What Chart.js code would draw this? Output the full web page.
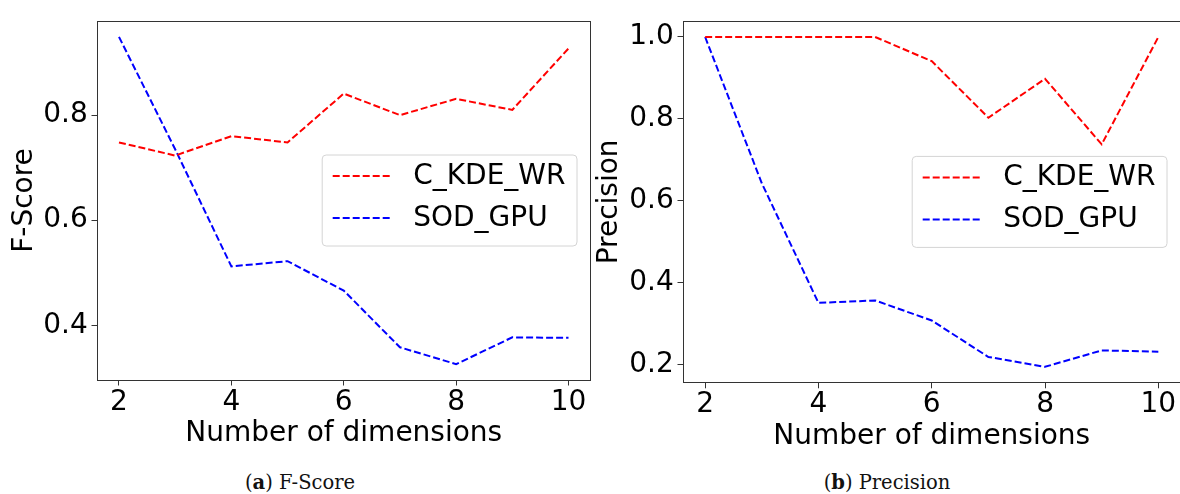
<!DOCTYPE html>
<html>
<head>
<meta charset="utf-8">
<script src="https://cdn.jsdelivr.net/npm/chart.js@4.4.0/dist/chart.umd.min.js"></script>
<style>
  html, body { margin: 0; padding: 0; background: #fff; overflow: hidden; width: 1180px; height: 494px; }
  .panel { position: absolute; top: 0; }
  .cap { position: absolute; top: 472px; line-height: 22px; font-family: 'DejaVu Serif', serif; font-size: 19.5px; color: #111; transform: translateX(-50%); white-space: nowrap; }
</style>
</head>
<body>
<div class="panel" style="left:0;width:600px;height:460px"><canvas id="fscoreChart" width="600" height="460"></canvas></div>
<div class="panel" style="left:590px;width:592px;height:460px"><canvas id="precisionChart" width="592" height="460"></canvas></div>
<div class="cap" style="left:300px">(<b>a</b>) F-Score</div>
<div class="cap" style="left:887px">(<b>b</b>) Precision</div>

<script>
// data
const dims = [2, 3, 4, 5, 6, 7, 8, 9, 10];
const fscoreKde = [0.748, 0.723, 0.760, 0.748, 0.841, 0.800, 0.831, 0.810, 0.927];
const fscoreSod = [0.949, 0.735, 0.512, 0.522, 0.466, 0.358, 0.326, 0.377, 0.376];
const precKde = [1.0, 1.0, 1.0, 1.0, 0.941, 0.803, 0.898, 0.738, 1.0];
const precSod = [1.0, 0.643, 0.351, 0.357, 0.308, 0.219, 0.195, 0.235, 0.232];
const seriesNames = ['C_KDE_WR', 'SOD_GPU'];
const seriesColors = ['#ff0000', '#0000ff'];
const xTicks = [2, 4, 6, 8, 10];
const fscoreTicks = [0.4, 0.6, 0.8];
const precTicks = [0.2, 0.4, 0.6, 0.8, 1.0];
const xTitle = 'Number of dimensions';

const FONT = "'DejaVu Sans', sans-serif";

// matplotlib style 5% margins
function padRange(values) {
  const lo = Math.min(...values), hi = Math.max(...values);
  const m = (hi - lo) * 0.05;
  return [lo - m, hi + m];
}

// full box around the plot + legend at center right
const frameAndLegend = {
  id: 'frameAndLegend',
  afterDraw(chart) {
    const {ctx, chartArea: a} = chart;
    ctx.save();
    ctx.strokeStyle = '#333';
    ctx.lineWidth = 1;
    const l = Math.round(a.left) + 0.5, t = Math.round(a.top) + 0.5;
    const r = Math.round(a.right) - 0.5, b = Math.round(a.bottom) - 0.5;
    ctx.strokeRect(l, t, r - l, b - t);

    ctx.font = '28px ' + FONT;
    const sets = chart.data.datasets;
    const tw = Math.max(...sets.map(d => ctx.measureText(d.label).width));
    const w = 10.5 + 57 + 23.5 + tw + 11.5;
    const h = 91;
    const x = a.right - 14 - w;
    const y = (a.top + a.bottom) / 2 - h / 2;
    ctx.beginPath();
    ctx.roundRect(x, y, w, h, 4);
    ctx.fillStyle = 'rgba(255,255,255,0.8)';
    ctx.fill();
    ctx.strokeStyle = '#d4d4d4';
    ctx.stroke();
    sets.forEach((d, i) => {
      const cy = y + 21 + i * 42;
      ctx.setLineDash(d.borderDash);
      ctx.strokeStyle = d.borderColor;
      ctx.lineWidth = d.borderWidth;
      ctx.beginPath();
      ctx.moveTo(x + 10.5, cy);
      ctx.lineTo(x + 67.5, cy);
      ctx.stroke();
      ctx.setLineDash([]);
      ctx.fillStyle = '#000';
      ctx.textBaseline = 'middle';
      ctx.textAlign = 'left';
      ctx.fillText(d.label, x + 91, cy + 0.5);
    });
    ctx.restore();
  }
};

function makeChart(id, yTitle, kde, sod, yTicks, g) {
  const [xMin, xMax] = padRange(dims);
  const [yMin, yMax] = padRange(kde.concat(sod));
  const series = [kde, sod];
  return new Chart(document.getElementById(id), {
    type: 'line',
    data: {
      datasets: series.map((vals, i) => ({
        label: seriesNames[i],
        data: dims.map((d, j) => ({x: d, y: vals[j]})),
        borderColor: seriesColors[i],
        borderWidth: 2,
        borderDash: [7, 3],
        pointRadius: 0,
        tension: 0,
        fill: false
      }))
    },
    options: {
      responsive: false,
      animation: false,
      layout: { padding: { top: 10, right: g.padRight, left: 0, bottom: 0 } },
      plugins: { legend: { display: false }, tooltip: { enabled: false } },
      scales: {
        x: {
          type: 'linear',
          min: xMin,
          max: xMax,
          afterBuildTicks: s => { s.ticks = xTicks.map(v => ({value: v})); },
          afterFit: s => { s.height = g.xHeight; },
          grid: { drawOnChartArea: false, drawTicks: true, tickLength: 5, color: '#333', lineWidth: 1 },
          border: { display: false },
          ticks: { padding: 0, color: '#000', maxRotation: 0, autoSkip: false,
                   font: { size: 28, family: FONT }, callback: v => String(v) },
          title: { display: true, text: xTitle, color: '#000',
                   font: { size: 28, family: FONT }, padding: { top: 0, bottom: g.xTitlePad } }
        },
        y: {
          min: yMin,
          max: yMax,
          afterBuildTicks: s => { s.ticks = yTicks.map(v => ({value: v})); },
          afterFit: s => { s.width = g.yWidth; },
          grid: { drawOnChartArea: false, drawTicks: true, tickLength: 5, color: '#333', lineWidth: 1 },
          border: { display: false },
          ticks: { padding: 3.7, color: '#000', font: { size: 28, family: FONT },
                   callback: v => v.toFixed(1) },
          title: { display: true, text: yTitle, color: '#000',
                   font: { size: 28, family: FONT }, padding: { top: g.yTitlePad, bottom: 0 } }
        }
      }
    },
    plugins: [frameAndLegend]
  });
}

makeChart('fscoreChart', 'F-Score', fscoreKde, fscoreSod, fscoreTicks,
  { yWidth: 96.5, xHeight: 79.5, padRight: 9, yTitlePad: 8.2, xTitlePad: 9.9 });
makeChart('precisionChart', 'Precision', precKde, precSod, precTicks,
  { yWidth: 92.5, xHeight: 76.7, padRight: 1, yTitlePad: 2.7, xTitlePad: 6.5 });
</script>
</body>
</html>
